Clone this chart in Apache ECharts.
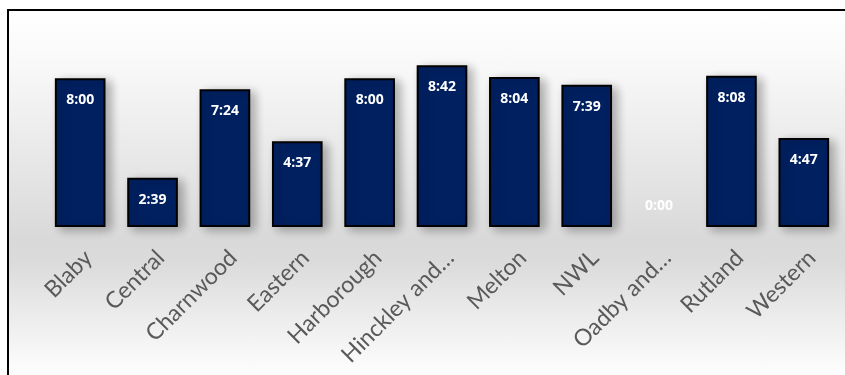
<!DOCTYPE html>
<html>
<head>
<meta charset="utf-8">
<script src="https://cdn.jsdelivr.net/npm/echarts@6/dist/echarts.min.js"></script>
<style>
  html, body { margin: 0; padding: 0; background: #fff; overflow: hidden; }
  #frame {
    position: absolute; left: 7px; top: 9px; width: 900px; height: 380px;
    border: 2px solid #000;
    background: linear-gradient(to bottom, #ffffff 0%, #f8f8f8 15%, #d9d9d9 60%, #dbdbdb 66%, #fdfdfd 95%);
  }
  #chart { position: absolute; left: 0; top: 0; width: 845px; height: 375px; }
</style>
</head>
<body>
<div id="frame"></div>
<div id="chart"></div>
<script>
// areas and times (seconds)
const categories = ['Blaby', 'Central', 'Charnwood', 'Eastern', 'Harborough', 'Hinckley and…', 'Melton', 'NWL', 'Oadby and…', 'Rutland', 'Western']
const seconds = [480, 159, 444, 277, 480, 522, 484, 459, 0, 488, 287]

const fmtTime = (v) => {
  const m = Math.floor(v / 60)
  const s = v % 60
  return m + ':' + (s < 10 ? '0' + s : s)
}

const chart = echarts.init(document.getElementById('chart'))

chart.setOption({
  animation: false,
  grid: {
    left: 44,
    right: 5,
    top: 41,
    bottom: 148,
    containLabel: false,
    outerBoundsMode: 'none'
  },
  xAxis: {
    type: 'category',
    data: categories,
    axisLine: { show: false },
    axisTick: { show: false },
    axisLabel: {
      rotate: 45,
      margin: 19,
      verticalAlign: 'top',
      color: '#595959',
      fontSize: 23,
      fontFamily: 'Lato',
      interval: 0
    }
  },
  yAxis: {
    type: 'value',
    min: 0,
    max: 600,
    show: false
  },
  series: [{
    type: 'bar',
    barWidth: '70%',
    data: seconds.map(v => (v === 0 ? {
      // empty bar: no outline, label sits above the floor
      value: v,
      itemStyle: { borderWidth: 0, shadowBlur: 0 },
      label: { position: 'insideBottom', distance: 14 }
    } : v)),
    itemStyle: {
      color: '#002060',
      borderColor: '#000',
      borderWidth: 2,
      shadowColor: 'rgba(0,0,0,0.3)',
      shadowBlur: 10,
      shadowOffsetX: 5,
      shadowOffsetY: 3
    },
    label: {
      show: true,
      position: 'insideTop',
      distance: 15,
      color: '#fff',
      fontWeight: 'bold',
      fontSize: 14,
      fontFamily: 'Open Sans',
      formatter: (p) => fmtTime(p.value)
    }
  }]
})
</script>
</body>
</html>
